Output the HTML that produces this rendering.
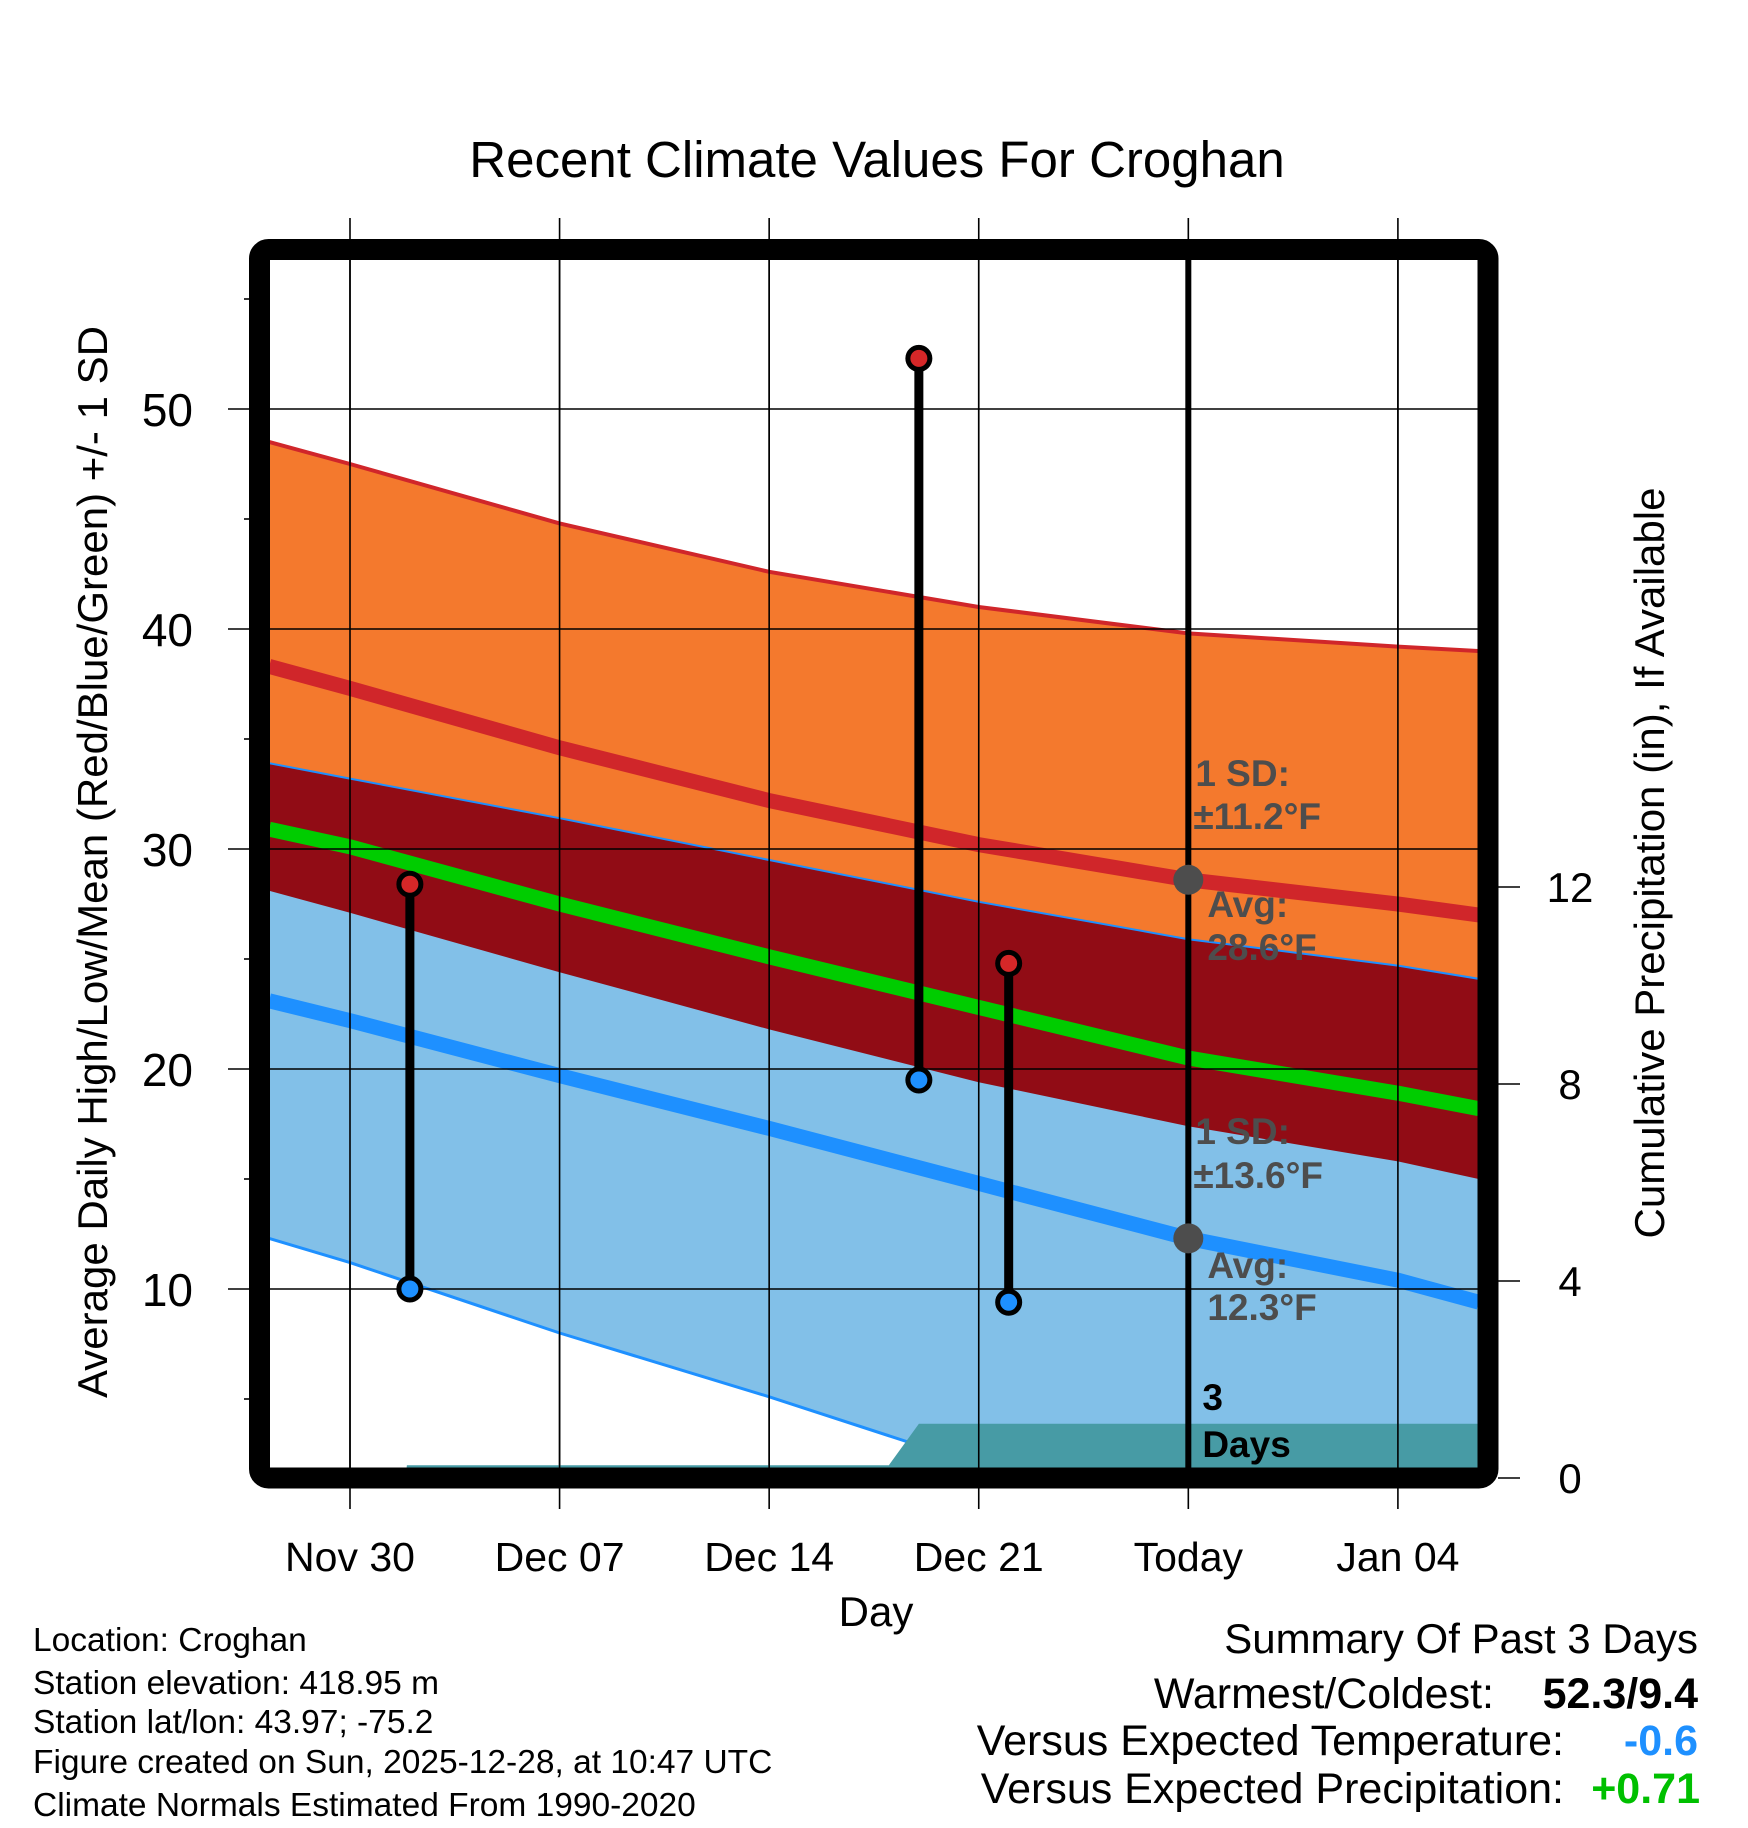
<!DOCTYPE html>
<html><head><meta charset="utf-8">
<style>
html,body{margin:0;padding:0;background:#fff;}
svg{display:block;font-family:"Liberation Sans",Arial,sans-serif;}
</style></head>
<body>
<svg id="chart" width="1748" height="1828" viewBox="0 0 1748 1828" xmlns="http://www.w3.org/2000/svg">
<defs><clipPath id="plotclip"><rect x="270" y="260" width="1208" height="1208"/></clipPath></defs>
<text x="877" y="177" font-size="51" text-anchor="middle">Recent Climate Values For Croghan</text>
<g id="grid"></g>
<g id="plot" clip-path="url(#plotclip)"></g>
<g id="overlay"></g>
<rect x="259.5" y="249.5" width="1228.5" height="1228.5" rx="9" fill="none" stroke="#000" stroke-width="21"/>
<g id="axes"></g>
<text transform="translate(107,862) rotate(-90)" font-size="42" text-anchor="middle">Average Daily High/Low/Mean (Red/Blue/Green) +/- 1 SD</text>
<text transform="translate(1664,863) rotate(-90)" font-size="42" text-anchor="middle">Cumulative Precipitation (in), If Available</text>
<text x="876" y="1626" font-size="42" text-anchor="middle">Day</text>
<g font-size="33.5">
<text x="33" y="1651">Location: Croghan</text>
<text x="33" y="1694">Station elevation: 418.95 m</text>
<text x="33" y="1733">Station lat/lon: 43.97; -75.2</text>
<text x="33" y="1773">Figure created on Sun, 2025-12-28, at 10:47 UTC</text>
<text x="33" y="1816">Climate Normals Estimated From 1990-2020</text>
</g>
<g font-size="43">
<text x="1698" y="1653" text-anchor="end" font-size="42">Summary Of Past 3 Days</text>
<text x="1494" y="1708" text-anchor="end">Warmest/Coldest:</text>
<text x="1698" y="1708" text-anchor="end" font-weight="bold">52.3/9.4</text>
<text x="1564" y="1755" text-anchor="end">Versus Expected Temperature:</text>
<text x="1698" y="1755" text-anchor="end" font-weight="bold" fill="#1E90FF">-0.6</text>
<text x="1564" y="1803" text-anchor="end">Versus Expected Precipitation:</text>
<text x="1700" y="1803" text-anchor="end" font-weight="bold" fill="#00C000">+0.71</text>
</g>
</svg>
<script>
// days relative to Nov 30
const knotDays = [-2.7, 0, 7, 14, 21, 28, 35, 37.7];
const highAvg = [38.3, 37.3, 34.6, 32.2, 30.2, 28.6, 27.5, 27.0];
const highSd  = [10.2, 10.2, 10.2, 10.4, 10.8, 11.2, 11.7, 12.0];
const lowAvg  = [23.1, 22.2, 19.7, 17.3, 14.8, 12.3, 10.4, 9.4];
const lowSd   = [10.8, 11.0, 11.7, 12.2, 12.8, 13.6, 14.3, 14.7];
const meanAvg = [30.9, 30.1, 27.5, 25.1, 22.8, 20.5, 18.9, 18.2];
const precipDays = [1.85, 1.9, 18.0, 19.0, 37.8];
const precipVals = [0.0, 0.26, 0.26, 1.1, 1.1];
const obsDays = [2, 19, 22];
const obsHigh = [28.4, 52.3, 24.8];
const obsLow  = [10.0, 19.5, 9.4];
const xTickDays = [0, 7, 14, 21, 28, 35];
const xTickLabels = ["Nov 30", "Dec 07", "Dec 14", "Dec 21", "Today", "Jan 04"];
const yTicks = [10, 20, 30, 40, 50];
const yMinorTicks = [5, 15, 25, 35, 45, 55];
const y2Ticks = [0, 4, 8, 12];
const todayDay = 28;
const todayHigh = 28.6, todayLow = 12.3, sdHighToday = 11.2, sdLowToday = 13.6;

const NS = "http://www.w3.org/2000/svg";
const X = d => 350 + d * 29.94;
const Y = t => 1509 - t * 22;
const P = v => 1478 - v * 49.25;
function mk(parent, tag, attrs) {
  const e = document.createElementNS(NS, tag);
  for (const k in attrs) e.setAttribute(k, attrs[k]);
  parent.appendChild(e); return e;
}
const grid = document.getElementById('grid');
const plot = document.getElementById('plot');
const over = document.getElementById('overlay');
const axes = document.getElementById('axes');

function linePts(arrFn) { return knotDays.map((d, i) => X(d).toFixed(1) + ',' + Y(arrFn(i)).toFixed(1)); }
function band(upper, lower, fill, name) {
  const up = linePts(upper), lo = linePts(lower).reverse();
  const p = mk(plot, 'polygon', {points: up.concat(lo).join(' '), fill: fill});
  
  
}
band(i => highAvg[i] + highSd[i], i => highAvg[i] - highSd[i], '#F4792D', 'high-sd-band');
band(i => lowAvg[i] + lowSd[i], i => lowAvg[i] - lowSd[i], '#82C0E8', 'low-sd-band');
band(i => Math.min(highAvg[i] + highSd[i], lowAvg[i] + lowSd[i]), i => Math.max(highAvg[i] - highSd[i], lowAvg[i] - lowSd[i]), '#910C15', 'overlap-band');
function pl(fn, color, w, name) {
  const e = mk(plot, 'polyline', {points: linePts(fn).join(' '), fill: 'none', stroke: color, 'stroke-width': w});
  
  
}
pl(i => highAvg[i] + highSd[i], '#D0262A', 4, 'high-upper-edge');
pl(i => lowAvg[i] + lowSd[i], '#1E90FF', 2, 'low-upper-edge');
pl(i => lowAvg[i] - lowSd[i], '#1E90FF', 3, 'low-lower-edge');
{
  const pts = precipDays.map((d, i) => X(d).toFixed(1) + ',' + P(precipVals[i]).toFixed(1));
  pts.push(X(precipDays[precipDays.length - 1]).toFixed(1) + ',' + P(0));
  pts.push(X(precipDays[0]).toFixed(1) + ',' + P(0));
  const e = mk(plot, 'polygon', {points: pts.join(' '), fill: '#479BA5'});
  
  
}
xTickDays.forEach(d => {
  const e = mk(grid, 'line', {x1: X(d), x2: X(d), y1: 218, y2: 1509, stroke: '#000', 'stroke-width': 1.6});
  
  
  const e2 = mk(over, 'line', {x1: X(d), x2: X(d), y1: 260, y2: 1468, stroke: '#000', 'stroke-width': 1.6});
  
  
});
yTicks.forEach(t => {
  const e = mk(over, 'line', {x1: 228, x2: 1478, y1: Y(t), y2: Y(t), stroke: '#000', 'stroke-width': 1.6});
  
  
});
pl(i => highAvg[i], '#D0262A', 15, 'avg-high-line');
pl(i => meanAvg[i], '#00CC00', 15, 'avg-mean-line');
pl(i => lowAvg[i], '#1E90FF', 15, 'avg-low-line');
{
  const e = mk(over, 'line', {x1: X(todayDay), x2: X(todayDay), y1: 260, y2: 1468, stroke: '#000', 'stroke-width': 6});
  
  
}
[todayHigh, todayLow].forEach((t, i) => {
  const e = mk(over, 'circle', {cx: X(todayDay), cy: Y(t), r: 15, fill: '#4D4D4D'});
  
  
});
function txt(parent, x, y, s, size, attrs, name) {
  const e = mk(parent, 'text', Object.assign({x: x, y: y, 'font-size': size}, attrs || {}));
  e.textContent = s;
  
  
  return e;
}
const ga = {fill: '#4D4D4D', 'font-weight': 'bold'};
const ax = X(todayDay);
txt(over, ax + 7, 786, '1 SD:', 37, ga, 'high-sd-label');
txt(over, ax + 5, 829, '±' + sdHighToday.toFixed(1) + '°F', 37, ga, 'high-sd-value');
txt(over, ax + 19, 917, 'Avg:', 37, ga, 'high-avg-label');
txt(over, ax + 19, 960, todayHigh.toFixed(1) + '°F', 37, ga, 'high-avg-value');
txt(over, ax + 7, 1144, '1 SD:', 37, ga, 'low-sd-label');
txt(over, ax + 5, 1188, '±' + sdLowToday.toFixed(1) + '°F', 37, ga, 'low-sd-value');
txt(over, ax + 19, 1278, 'Avg:', 37, ga, 'low-avg-label');
txt(over, ax + 19, 1320, todayLow.toFixed(1) + '°F', 37, ga, 'low-avg-value');
txt(over, ax + 14, 1410, '3', 37, {'font-weight': 'bold'}, 'days-count');
txt(over, ax + 14, 1457, 'Days', 37, {'font-weight': 'bold'}, 'days-label');
obsDays.forEach((d, i) => {
  const e = mk(over, 'line', {x1: X(d), x2: X(d), y1: Y(obsHigh[i]), y2: Y(obsLow[i]), stroke: '#000', 'stroke-width': 9});
  
  
  const h = mk(over, 'circle', {cx: X(d), cy: Y(obsHigh[i]), r: 11, fill: '#D62728', stroke: '#000', 'stroke-width': 5});
  
  
  const l = mk(over, 'circle', {cx: X(d), cy: Y(obsLow[i]), r: 11, fill: '#1E90FF', stroke: '#000', 'stroke-width': 5});
  
  
});
xTickDays.forEach((d, i) => {
  txt(axes, X(d), 1571, xTickLabels[i], 41, {'text-anchor': 'middle'}, 'x-tick-label');
});
yTicks.forEach(t => {
  txt(axes, 193, Y(t) + 17, String(t), 46, {'text-anchor': 'end'}, 'y-tick-label');
});
yMinorTicks.forEach(t => {
  const e = mk(axes, 'line', {x1: 244, x2: 250, y1: Y(t), y2: Y(t), stroke: '#000', 'stroke-width': 1.6});
  
  
});
y2Ticks.forEach(v => {
  const e = mk(axes, 'line', {x1: 1498, x2: 1520, y1: P(v), y2: P(v), stroke: '#000', 'stroke-width': 1.6});
  
  
  txt(axes, 1570, P(v) + 15, String(v), 42, {'text-anchor': 'middle'}, 'y2-tick-label');
});
</script>
</body></html>
